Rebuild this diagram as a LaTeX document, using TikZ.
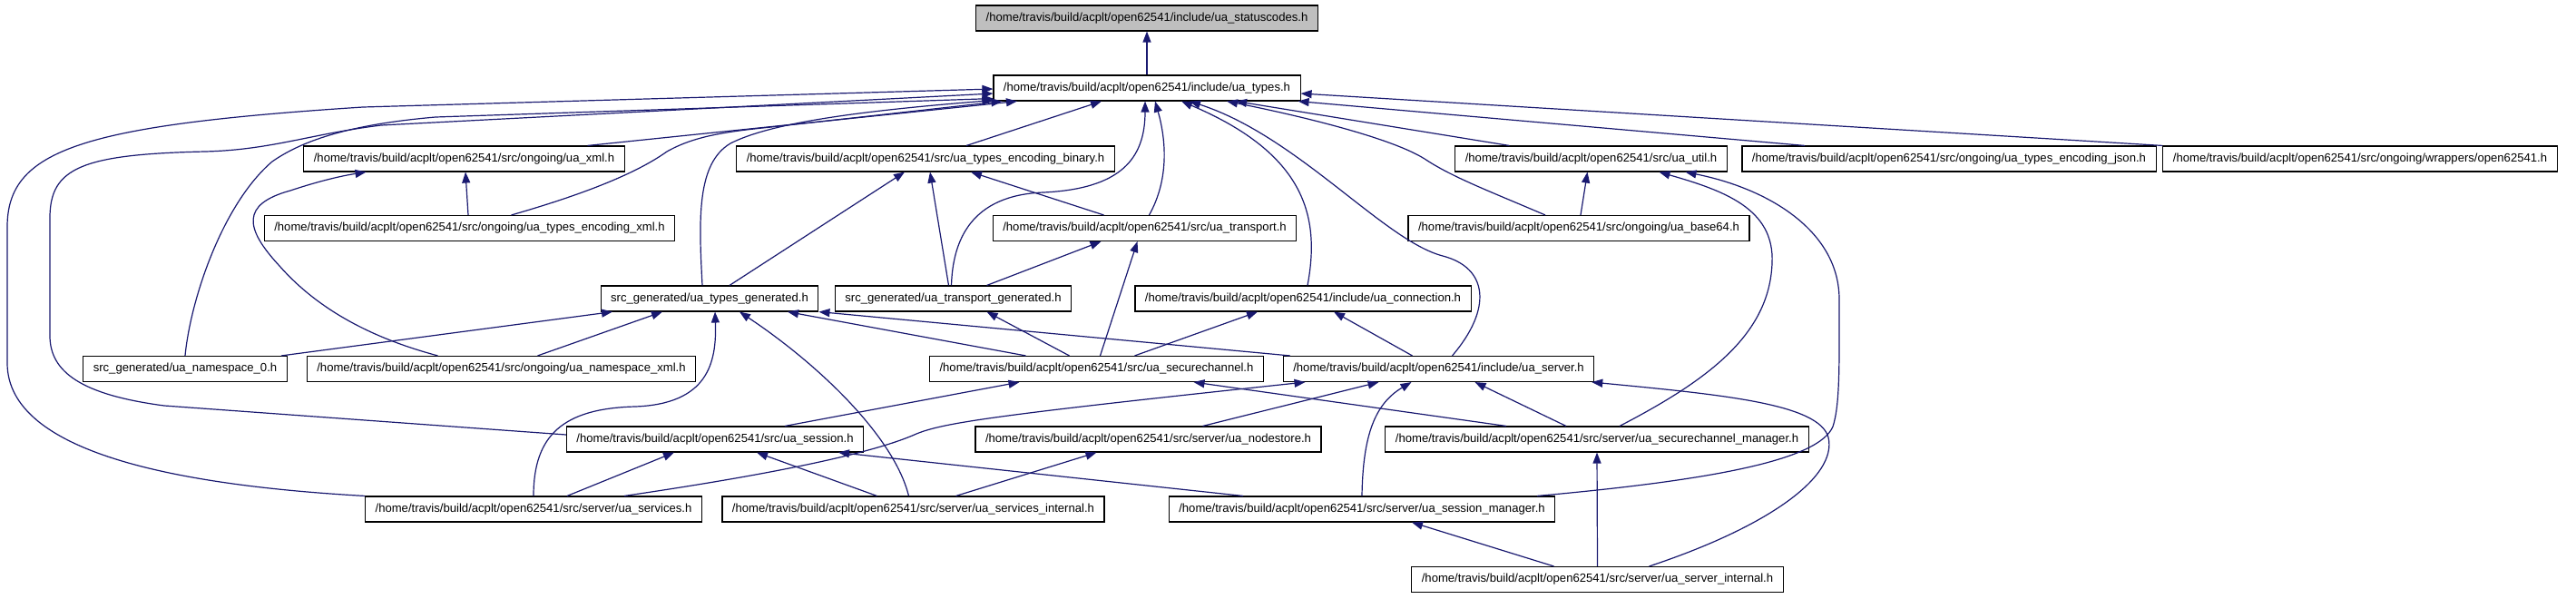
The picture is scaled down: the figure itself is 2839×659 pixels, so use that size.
\documentclass[tikz,border=0pt]{standalone}
\usepackage{fontspec}
\setmainfont{Liberation Sans}
\usepackage{tikz}
\usetikzlibrary{arrows.meta,positioning}
\definecolor{edgeblue}{HTML}{191970}
\definecolor{rootgray}{HTML}{BFBFBF}

\begin{document}
\begin{tikzpicture}[x=1pt, y=-1pt,
    hdr/.style={draw=black, line width=1.1pt, fill=white, inner xsep=11pt, inner ysep=0pt, minimum height=28pt, font=\fontsize{13.1pt}{15pt}\selectfont},
    dep/.style={draw=edgeblue, line width=1.2pt, -{Triangle[length=12pt,width=9pt]}}]
    \fill[white] (0,0) rectangle (2839,659);
    % headers, top to bottom
    \node[hdr, fill=rootgray] (stat) at (1264,20) {/home/travis/build/acplt/open62541/include/ua\_statuscodes.h};
    \node[hdr] (types) at (1264,97) {/home/travis/build/acplt/open62541/include/ua\_types.h};
    \node[hdr] (xml) at (511.5,175) {/home/travis/build/acplt/open62541/src/ongoing/ua\_xml.h};
    \node[hdr] (bin) at (1020,175) {/home/travis/build/acplt/open62541/src/ua\_types\_encoding\_binary.h};
    \node[hdr] (util) at (1753.5,175) {/home/travis/build/acplt/open62541/src/ua\_util.h};
    \node[hdr] (json) at (2148,175) {/home/travis/build/acplt/open62541/src/ongoing/ua\_types\_encoding\_json.h};
    \node[hdr] (wrap) at (2601,175) {/home/travis/build/acplt/open62541/src/ongoing/wrappers/open62541.h};
    \node[hdr] (encxml) at (517.5,251.5) {/home/travis/build/acplt/open62541/src/ongoing/ua\_types\_encoding\_xml.h};
    \node[hdr] (transport) at (1261.5,251.5) {/home/travis/build/acplt/open62541/src/ua\_transport.h};
    \node[hdr] (base64) at (1740,251.5) {/home/travis/build/acplt/open62541/src/ongoing/ua\_base64.h};
    \node[hdr] (tgen) at (782,329) {src\_generated/ua\_types\_generated.h};
    \node[hdr] (trgen) at (1050.5,329) {src\_generated/ua\_transport\_generated.h};
    \node[hdr] (conn) at (1436,329) {/home/travis/build/acplt/open62541/include/ua\_connection.h};
    \node[hdr] (ns0) at (204,406.5) {src\_generated/ua\_namespace\_0.h};
    \node[hdr] (nsxml) at (552.5,406.5) {/home/travis/build/acplt/open62541/src/ongoing/ua\_namespace\_xml.h};
    \node[hdr] (sc) at (1208.5,406.5) {/home/travis/build/acplt/open62541/src/ua\_securechannel.h};
    \node[hdr] (server) at (1585.5,406.5) {/home/travis/build/acplt/open62541/include/ua\_server.h};
    \node[hdr] (session) at (788,484) {/home/travis/build/acplt/open62541/src/ua\_session.h};
    \node[hdr] (nodestore) at (1265.5,484) {/home/travis/build/acplt/open62541/src/server/ua\_nodestore.h};
    \node[hdr] (scm) at (1760,484) {/home/travis/build/acplt/open62541/src/server/ua\_securechannel\_manager.h};
    \node[hdr] (services) at (588,561) {/home/travis/build/acplt/open62541/src/server/ua\_services.h};
    \node[hdr] (servint) at (1006.5,561) {/home/travis/build/acplt/open62541/src/server/ua\_services\_internal.h};
    \node[hdr] (sessm) at (1501,561) {/home/travis/build/acplt/open62541/src/server/ua\_session\_manager.h};
    \node[hdr] (serverint) at (1760.5,638.5) {/home/travis/build/acplt/open62541/src/server/ua\_server\_internal.h};

    % includes of ua_statuscodes.h and ua_types.h
    \draw[dep] (types.north) -- (stat.south);
    \draw[dep] (services.north west) .. controls (200,535) and (8,500) .. (8,400) -- (8,250) .. controls (8,165) and (90,138) .. (400,118) -- ([yshift=-1]types.west);
    \draw[dep] ([yshift=5]session.west) -- (181,447) .. controls (90,435) and (55,410) .. (55,370) -- (55,240) .. controls (55,185) and (90,170) .. (226,167) .. controls (300,165) and (340,148) .. (420,138) -- ([yshift=-6]types.west);
    \draw[dep] (ns0.north) .. controls (210,330) and (245,225) .. (300,178) .. controls (340,150) and (400,136) .. (480,129) -- ([yshift=3]types.south west);
    \draw[dep] ([xshift=136]xml.north) -- ([xshift=-143]types.south);
    \draw[dep] ([xshift=46]encxml.north) .. controls (640,215) and (700,192) .. (735,167) .. controls (765,150) and (800,145) .. (850,140) -- ([xshift=10]types.south west);
    \draw[dep] ([xshift=-8]tgen.north) .. controls (770,240) and (768,180) .. (805,158) .. controls (850,135) and (950,122) .. ([yshift=1]types.south west);
    \draw[dep] ([xshift=45]bin.north) -- ([xshift=-50]types.south);
    \draw[dep] ([xshift=-2]trgen.north) .. controls (1050,265) and (1070,215) .. (1150,212) .. controls (1235,208) and (1262,175) .. ([xshift=-2]types.south);
    \draw[dep] ([xshift=5]transport.north) .. controls (1290,195) and (1284,150) .. ([xshift=9]types.south);
    \draw[dep] ([xshift=5]conn.north) .. controls (1455,240) and (1440,170) .. ([xshift=38]types.south);
    \draw[dep] ([xshift=15]server.north) .. controls (1645,340) and (1640,295) .. (1590,282) .. controls (1525,265) and (1430,150) .. ([xshift=47]types.south);
    \draw[dep] ([xshift=-37]base64.north) .. controls (1640,210) and (1600,195) .. (1570,175) .. controls (1530,150) and (1420,125) .. ([xshift=88]types.south);
    \draw[dep] ([xshift=-90]util.north) -- ([xshift=98]types.south);
    \draw[dep] ([xshift=-159]json.north) -- ([xshift=-3]types.south east);
    \draw[dep] (wrap.north west) -- ([yshift=-6]types.east);

    % second level
    \draw[dep] ([xshift=-1.5]encxml.north) -- ([xshift=1.5]xml.south);
    \draw[dep] ([xshift=-70]nsxml.north) .. controls (400,370) and (345,335) .. (308,293) .. controls (270,252) and (265,225) .. (320,210) .. controls (350,200) and (375,194) .. ([xshift=-108]xml.south);
    \draw[dep] ([xshift=22]tgen.north) -- ([xshift=-23]bin.south);
    \draw[dep] ([xshift=-5]trgen.north) -- ([xshift=5]bin.south);
    \draw[dep] ([xshift=-45]transport.north) -- ([xshift=50]bin.south);
    \draw[dep] ([xshift=2]base64.north) -- ([xshift=-4]util.south);
    \draw[dep] ([xshift=25]scm.north) .. controls (1880,420) and (1950,370) .. (1953,290) .. controls (1956,230) and (1900,210) .. ([xshift=75]util.south);
    \draw[dep] ([xshift=193]sessm.north) .. controls (1900,528) and (2005,505) .. (2020,470) .. controls (2028,445) and (2027,400) .. (2027,330) .. controls (2027,255) and (1950,208) .. ([xshift=104]util.south);
    \draw[dep] ([xshift=37]trgen.north) -- ([xshift=-48]transport.south);
    \draw[dep] ([xshift=4]sc.north) -- ([xshift=-8]transport.south);

    % generated headers and connection
    \draw[dep] ([xshift=106]ns0.north) -- ([xshift=-107]tgen.south);
    \draw[dep] ([xshift=40]nsxml.north) -- ([xshift=-52]tgen.south);
    \draw[dep] (services.north) .. controls (588,480) and (620,450) .. (700,448) .. controls (780,445) and (790,400) .. ([xshift=6]tgen.south);
    \draw[dep] ([xshift=-5]servint.north) .. controls (985,480) and (900,400) .. ([xshift=33]tgen.south);
    \draw[dep] ([xshift=-78]sc.north) -- ([xshift=86]tgen.south);
    \draw[dep] ([xshift=8]server.north west) -- (tgen.south east);
    \draw[dep] ([xshift=-30]sc.north) -- ([xshift=37]trgen.south);
    \draw[dep] ([xshift=42]sc.north) -- ([xshift=-50]conn.south);
    \draw[dep] ([xshift=-29]server.north) -- ([xshift=34]conn.south);

    % securechannel and server
    \draw[dep] ([xshift=77]session.north) -- ([xshift=-85]sc.south);
    \draw[dep] ([xshift=-100]scm.north) -- ([xshift=107]sc.south);
    \draw[dep] ([xshift=100]services.north) .. controls (800,530) and (950,505) .. (1010,478) .. controls (1040,466) and (1090,458) .. ([xshift=-147]server.south);
    \draw[dep] ([xshift=60]nodestore.north) -- ([xshift=-66]server.south);
    \draw[dep] (sessm.north) .. controls (1502,480) and (1515,445) .. ([xshift=-30]server.south);
    \draw[dep] ([xshift=-34]scm.north) -- ([xshift=40]server.south);
    \draw[dep] ([xshift=57]serverint.north) .. controls (1950,580) and (2025,525) .. (2015,482) .. controls (2005,445) and (1900,435) .. ([xshift=-3]server.south east);

    % bottom rows
    \draw[dep] ([xshift=37]services.north) -- ([xshift=-45]session.south);
    \draw[dep] ([xshift=-40]servint.north) -- ([xshift=46]session.south);
    \draw[dep] ([xshift=-131]sessm.north) -- ([xshift=136]session.south);
    \draw[dep] ([xshift=47]servint.north) -- ([xshift=-57]nodestore.south);
    \draw[dep] (serverint.north) -- (scm.south);
    \draw[dep] ([xshift=-48]serverint.north) -- ([xshift=55]sessm.south);
\end{tikzpicture}
\end{document}
